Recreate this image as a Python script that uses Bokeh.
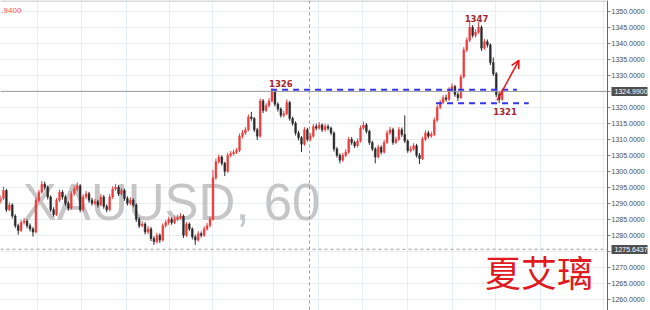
from bokeh.plotting import figure
from bokeh.models import (Range1d, FixedTicker, PrintfTickFormatter, Span, Label,
                          Arrow, OpenHead, ColumnDataSource, LinearAxis)
from bokeh.core.properties import value
from bokeh.embed import file_html
from bokeh.resources import INLINE
import numpy as np

# ---------------- data (XAUUSD, 60 min) ----------------
first_open = 1290.5
closes = [
    1291.6, 1294, 1288, 1289.5, 1286, 1283, 1281.5, 1284, 1284.5, 1283,
    1282, 1281, 1291, 1293.5, 1296, 1295, 1292, 1288, 1286.5, 1291,
    1293.5, 1292, 1290, 1288.5, 1293, 1294.5, 1295.5, 1288, 1292, 1293,
    1291, 1290, 1290.5, 1289.5, 1292, 1289, 1288, 1292, 1294.5, 1295,
    1293, 1294, 1291.5, 1290, 1291, 1289.5, 1285, 1283, 1283.5, 1281,
    1282, 1279, 1278, 1280, 1278.5, 1283, 1284, 1285, 1284, 1285,
    1285.5, 1286, 1280, 1283.5, 1282, 1279.5, 1278.5, 1280.5, 1280, 1282,
    1283, 1285, 1298, 1303, 1304.5, 1302.5, 1300, 1305, 1305.5, 1306,
    1306.5, 1311, 1312, 1313, 1317, 1316.5, 1313, 1311, 1322, 1319,
    1320.5, 1322, 1325, 1321, 1319.5, 1317.5, 1318, 1321.5, 1316.5, 1315,
    1312, 1310.5, 1308.5, 1313, 1310, 1311, 1314, 1313.5, 1314.5, 1313,
    1314, 1313.5, 1312, 1307, 1305, 1303.5, 1305, 1306, 1310, 1309,
    1308, 1309.5, 1313.5, 1314.5, 1312.5, 1309, 1307, 1304.5, 1307.5, 1306,
    1309, 1312, 1313, 1309, 1310, 1313, 1311.5, 1309.5, 1306.5, 1307,
    1308, 1305, 1304, 1310, 1312, 1311, 1311.5, 1316, 1320, 1321.5,
    1323, 1322.5, 1325.5, 1326.5, 1324, 1323, 1329.5, 1338, 1341, 1345,
    1342.5, 1343.5, 1345, 1338.5, 1340.5, 1339.5, 1334, 1330.5, 1324, 1322.5,
    1324.99,
]
highs = [
    1292.5, 1295.2, 1294.5, 1290.3, 1290, 1286.6, 1283.6, 1284.8, 1285.4, 1285,
    1283.7, 1282.6, 1291.8, 1294.2, 1297, 1296.8, 1295.6, 1292.5, 1288.8, 1291.7,
    1294.3, 1294.1, 1292.7, 1290.6, 1293.8, 1295.3, 1296.6, 1296, 1292.8, 1293.9,
    1293.6, 1291.7, 1291.4, 1291.1, 1292.9, 1292.6, 1289.7, 1292.9, 1295.3, 1296.1,
    1295.7, 1294.8, 1294.6, 1292.2, 1291.9, 1291.6, 1290, 1285.7, 1284.4, 1284.1,
    1282.9, 1282.6, 1279.7, 1280.8, 1280.6, 1283.7, 1284.8, 1285.8, 1285.6, 1285.9,
    1286.4, 1286.9, 1286.5, 1284.2, 1284, 1282.5, 1280.2, 1281.3, 1281.2, 1282.8,
    1283.9, 1285.8, 1300.5, 1304, 1305.3, 1305, 1303, 1305.8, 1306.3, 1306.8,
    1307.3, 1311.8, 1312.9, 1313.8, 1317.8, 1318.6, 1317, 1313.6, 1322.8, 1322.6,
    1321.3, 1322.9, 1326, 1325.6, 1321.6, 1320, 1318.9, 1322.5, 1322, 1317.1,
    1315.6, 1312.7, 1311, 1313.8, 1313.6, 1311.9, 1314.8, 1314.9, 1315.4, 1315,
    1314.9, 1314.7, 1314, 1312.5, 1307.6, 1305.6, 1305.8, 1306.9, 1310.8, 1310.7,
    1309.6, 1310.3, 1314.3, 1315.5, 1315.1, 1313, 1309.6, 1307.5, 1308.3, 1308.1,
    1309.8, 1312.8, 1313.9, 1313.6, 1310.8, 1313.8, 1313.7, 1317.5, 1310, 1307.9,
    1308.8, 1308.6, 1305.7, 1310.8, 1312.8, 1312.7, 1312.4, 1316.8, 1320.8, 1322.3,
    1323.8, 1324, 1326.3, 1327.5, 1327, 1324.7, 1330.3, 1338.8, 1341.8, 1347.3,
    1345.7, 1344.4, 1346.6, 1345.6, 1341.4, 1341.2, 1340, 1335.6, 1331, 1324.8,
    1325.8,
]
lows = [
    1289.8, 1291, 1287.3, 1287.5, 1285.3, 1282.3, 1280.2, 1281, 1283.4, 1282.2,
    1281.2, 1279.6, 1280.6, 1290.3, 1293, 1294.2, 1291.2, 1287.3, 1285.8, 1286,
    1290.4, 1291.2, 1289.2, 1287.7, 1288, 1292.4, 1293.8, 1287.2, 1287.4, 1291.3,
    1290.2, 1289.3, 1289.4, 1288.7, 1289, 1288.3, 1287.2, 1287.5, 1291.4, 1293.9,
    1292.3, 1292.4, 1290.8, 1289.3, 1289.4, 1288.8, 1284.2, 1282.3, 1282.5, 1280.3,
    1280.4, 1278.2, 1277, 1277.4, 1277.6, 1278, 1282.4, 1283.3, 1283.3, 1283.5,
    1284.4, 1285, 1279.2, 1279.5, 1281.3, 1278.7, 1277, 1278, 1279.3, 1279.5,
    1281.4, 1282.5, 1284.6, 1297.3, 1302.4, 1301.8, 1298.5, 1299.5, 1304.4, 1305,
    1305.4, 1306, 1310.3, 1311.4, 1312.5, 1315.8, 1312.3, 1309.8, 1310.5, 1318.2,
    1318.5, 1320, 1321.5, 1320.3, 1318.7, 1316.8, 1316.9, 1317.5, 1315.8, 1314.3,
    1311.2, 1309.7, 1306, 1308, 1309.3, 1309.4, 1310.5, 1312.8, 1313, 1312.3,
    1312.4, 1312.8, 1311.3, 1306.2, 1304.3, 1302.5, 1303, 1304.4, 1305.5, 1308.3,
    1307.3, 1307.5, 1309, 1313, 1311.8, 1308.3, 1306.3, 1302.5, 1304, 1305.3,
    1305.5, 1308.5, 1311.4, 1308.3, 1308.5, 1309.5, 1310.8, 1308.8, 1305.8, 1305.9,
    1306.4, 1304.3, 1302.3, 1303.5, 1309.4, 1310.3, 1310.5, 1311, 1315.4, 1319.4,
    1321, 1321.8, 1322, 1324.9, 1323.3, 1322, 1322.6, 1329, 1337.3, 1340.4,
    1341.8, 1341.8, 1343, 1337.6, 1338, 1338.7, 1333.2, 1329.8, 1323.2, 1321.3,
    1322,
]
opens = [first_open] + closes[:-1]

y_ticks = list(range(1260, 1351, 5))
x_grid_marks = [12.6, 27.6, 42.8, 57.2, 72, 92.4, 107.8, 122.8, 137.8, 153.1, 167.6, 183.1, 204.3]
last_price = 1324.99
cross_price = 1275.6437
cross_bar = 104.7
peak_labels = ["1326", "1347", "1321"]
peak_label_bar = [95, 161.3, 171]
peak_label_price = [1327.6, 1347.9, 1318.7]
level_prices = [1325.5, 1321.3]
level_start = [91.7, 147.6]
level_end = [175, 179]
arrow_from = (168.3, 1322.2)
arrow_to = (175.7, 1334.7)
watermark = "XAUUSD, 60"
author = "夏艾璃"

# ---------------- figure ----------------
n = len(closes)
xs = np.arange(n)
o = np.array(opens); c = np.array(closes)
up = c >= o
src = ColumnDataSource(dict(
    x=xs, top=np.maximum(o, c), bottom=np.minimum(o, c), high=highs, low=lows,
    color=np.where(up, "#ee3b3b", "#2b2b2b"),
))

p = figure(width=650, height=310, x_range=Range1d(0, 205.7), y_range=Range1d(1256.5, 1353.4),
           y_axis_location="right", x_axis_location=None, toolbar_location=None,
           output_backend="svg", min_border=0, min_border_left=0, min_border_right=0,
           min_border_top=0, min_border_bottom=0)
p.outline_line_color = None
p.background_fill_color = "white"

p.yaxis.ticker = FixedTicker(ticks=y_ticks)
p.yaxis.formatter = PrintfTickFormatter(format="%.4f")
p.yaxis.major_label_text_font = "Liberation Sans"
p.yaxis.major_label_text_font_size = "7px"
p.yaxis.major_label_text_color = "#4a4a4a"
p.yaxis.axis_line_color = "#666666"
p.yaxis.major_tick_line_color = "#888888"
p.yaxis.major_tick_out = 3
p.yaxis.major_tick_in = 0
p.yaxis.minor_tick_out = 0
p.yaxis.minor_tick_in = 0
p.yaxis.major_label_standoff = 1

# price tags on the axis (drawn as thick ticks of a second, zero-width axis)
tag_axis = LinearAxis(ticker=FixedTicker(ticks=[last_price, cross_price]),
                      formatter=PrintfTickFormatter(format="%.4f"))
tag_axis.axis_line_color = None
tag_axis.major_tick_in = 36
tag_axis.major_tick_out = 0
tag_axis.minor_tick_in = 0
tag_axis.minor_tick_out = 0
tag_axis.major_tick_line_width = 9
tag_axis.major_tick_line_color = "#4f4f4f"
tag_axis.major_label_text_color = "white"
tag_axis.major_label_text_font = "Liberation Sans"
tag_axis.major_label_text_font_size = "7px"
tag_axis.major_label_standoff = -33
p.add_layout(tag_axis, "right")

p.ygrid.ticker = FixedTicker(ticks=y_ticks)
p.ygrid.grid_line_color = "#e6edf3"
p.xgrid.ticker = FixedTicker(ticks=x_grid_marks)
p.xgrid.grid_line_color = "#e6edf3"

# watermark
p.text(x=[58], y=[1290.3], text=[watermark], text_font=value("Liberation Sans"),
       text_font_size="51px", text_color="#c6c6c6", text_align="center",
       text_baseline="alphabetic")

# top border, price line, crosshair
p.add_layout(Span(location=1353.25, dimension="width", line_color="#d9d9d9", line_width=2))
p.add_layout(Span(location=last_price, dimension="width", line_color="#9a9a9a", line_width=1))
p.add_layout(Span(location=cross_price, dimension="width", line_color="#9a9a9a",
                  line_width=1, line_dash="3 3"))
p.add_layout(Span(location=cross_bar, dimension="height", line_color="#9a9a9a",
                  line_width=1, line_dash="3 3"))

# candles
p.segment(x0="x", y0="low", x1="x", y1="high", color="color", line_width=1, source=src)
p.vbar(x="x", width=0.6, top="top", bottom="bottom", fill_color="color",
       line_color="color", line_width=0.5, source=src)

# levels
p.segment(x0=level_start, y0=level_prices, x1=level_end, y1=level_prices,
          line_color="#3333ee", line_width=2, line_dash="6 5")

# price labels
p.text(x=peak_label_bar, y=peak_label_price, text=peak_labels,
       text_font=value("DejaVu Sans"), text_font_style="bold", text_font_size="8.5px",
       text_color="#a3262a", text_align="center", text_baseline="middle")

# arrow
p.add_layout(Arrow(end=OpenHead(size=8, line_color="#ee1111", line_width=1.5),
                   x_start=arrow_from[0], y_start=arrow_from[1],
                   x_end=arrow_to[0], y_end=arrow_to[1],
                   line_color="#ee1111", line_width=1.5))

# author signature
p.text(x=[182.5], y=[1268.8], text=[author], text_font=value("Noto Sans CJK SC"),
       text_font_size="36px", text_color="#e01a1f", text_align="center",
       text_baseline="middle")

# clipped red label top-left
p.add_layout(Label(x=0.3, y=1350.3, text=".9400", text_font="Liberation Sans",
                   text_font_size="8px", text_color="#ff5050", text_baseline="middle"))

open("out.html", "w").write(file_html(p, INLINE))
